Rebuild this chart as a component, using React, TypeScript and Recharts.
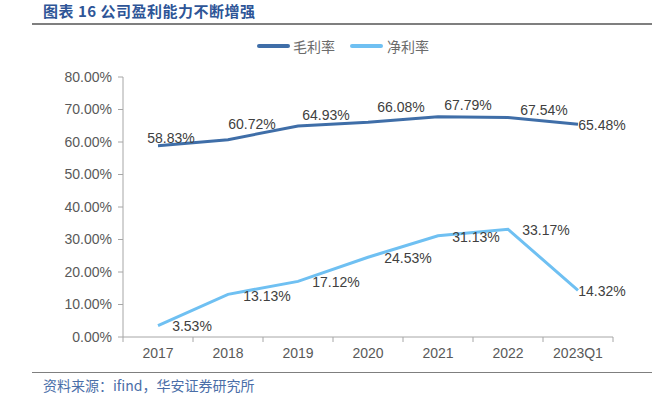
import { LineChart, Line, XAxis, YAxis } from 'recharts';

const years = ['2017', '2018', '2019', '2020', '2021', '2022', '2023Q1'];
const grossMargin = [58.83, 60.72, 64.93, 66.08, 67.79, 67.54, 65.48];
const netMargin = [3.53, 13.13, 17.12, 24.53, 31.13, 33.17, 14.32];
const yTicks = [0, 10, 20, 30, 40, 50, 60, 70, 80];

// label placement (dx, dy from the point), not data
const grossLabelPos = [[13, -8], [24, -16], [28, -11], [33, -15], [30, -12], [36, -7], [24, 1]];
const netLabelPos = [[34, 0], [39, 2], [38, 1], [40, 1], [38, 1], [38, 1], [24, 1]];

const rows = years.map((y, i) => ({ year: y, gross: grossMargin[i], net: netMargin[i] }));

const W = 663;
const H = 397;
const M = { top: 77, right: 50, left: 0, bottom: 30 };
const Y_W = 123;
const HALF_BAND = (W - M.right - Y_W) / years.length / 2;

const FONT = '"Liberation Sans", Arial, sans-serif';
const CJK = '"Noto Sans CJK SC", sans-serif';
const AXIS = '#a6a6a6';

const makeLabel = (pos: number[][]) => (props: any) => {
  const { x, y, value, index } = props;
  const [dx, dy] = pos[index];
  return (
    <text x={x + dx} y={y + dy} textAnchor="middle" dominantBaseline="central"
      fontSize={14} fontFamily={FONT} fill="#404040">
      {value.toFixed(2)}%
    </text>
  );
};

const YearTick = (props: any) => {
  const { x, y, payload, index } = props;
  return (
    <g>
      <line x1={x - HALF_BAND} y1={y} x2={x - HALF_BAND} y2={y + 5} stroke={AXIS} />
      {index === years.length - 1 && (
        <line x1={x + HALF_BAND} y1={y} x2={x + HALF_BAND} y2={y + 5} stroke={AXIS} />
      )}
      <text x={x} y={y + 16} textAnchor="middle" dominantBaseline="central"
        fontSize={14} fontFamily={FONT} fill="#595959">
        {payload.value}
      </text>
    </g>
  );
};

const LegendBox = () => (
  <div style={{ position: 'absolute', left: 257, top: 37, height: 18, display: 'flex', alignItems: 'center', fontFamily: CJK, fontSize: 14, color: '#6b6b6b' }}>
    <span style={{ width: 33, height: 4, background: '#3f6ea8', borderRadius: 2, marginRight: 3 }} />
    <span style={{ marginRight: 15 }}>毛利率</span>
    <span style={{ width: 33, height: 4, background: '#6fc0f2', borderRadius: 2, marginRight: 4 }} />
    <span>净利率</span>
  </div>
);

export default function App() {
  return (
    <div style={{ position: 'absolute', left: 0, top: 0, width: W, height: H, background: '#fff', overflow: 'hidden' }}>
      <div style={{ position: 'absolute', left: 43, top: 1, lineHeight: '20px', fontFamily: CJK, fontWeight: 'bold', fontSize: 15, color: '#2e5597', letterSpacing: 0.5 }}>
        图表 16 公司盈利能力不断增强
      </div>
      <div style={{ position: 'absolute', left: 32, top: 23, width: 620, height: 2, background: '#7f7f7f' }} />
      <LegendBox />
      <LineChart width={W} height={H} data={rows} margin={M}>
        <XAxis dataKey="year" scale="band" height={30} tickLine={false} tickSize={0} tickMargin={0}
          interval={0} stroke={AXIS} tick={<YearTick />} />
        <YAxis width={Y_W} domain={[0, 80]} ticks={yTicks} interval={0} tickSize={5} tickMargin={6}
          stroke={AXIS} tickFormatter={(v: number) => `${v.toFixed(2)}%`}
          tick={{ fill: '#595959', fontSize: 14, fontFamily: FONT }} />
        <Line dataKey="gross" stroke="#3f6ea8" strokeWidth={3} dot={false} isAnimationActive={false}
          label={makeLabel(grossLabelPos)} />
        <Line dataKey="net" stroke="#6fc0f2" strokeWidth={3} dot={false} isAnimationActive={false}
          label={makeLabel(netLabelPos)} />
      </LineChart>
      <div style={{ position: 'absolute', left: 32, top: 372, width: 620, height: 1, background: '#7f7f7f' }} />
      <div style={{ position: 'absolute', left: 43, top: 376, lineHeight: '18px', fontFamily: '"Noto Sans CJK SC", "Liberation Serif", serif', fontSize: 14, color: '#4a6ea8' }}>
        资料来源：ifind，华安证券研究所
      </div>
    </div>
  );
}
